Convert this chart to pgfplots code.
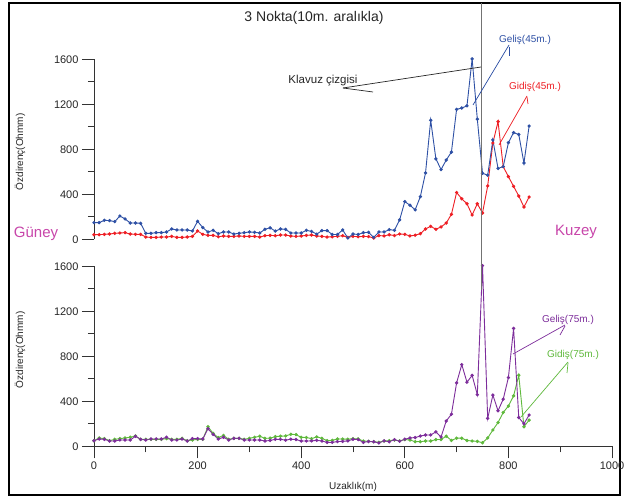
\documentclass[border=0pt]{standalone}
\usepackage{pgfplots}
\pgfplotsset{compat=1.18}
\usepackage{pgfplotstable}
\usepackage{fontspec}
\setmainfont{Liberation Sans}
\definecolor{cblue}{RGB}{46,80,165}
\definecolor{cred}{RGB}{238,30,36}
\definecolor{cpurple}{RGB}{125,45,155}
\definecolor{cgreen}{RGB}{95,185,60}
\definecolor{cmag}{RGB}{200,70,170}

\pgfplotstableread{
x y
0 148
10 148
20 169
30 166
40 157
50 207
60 181
70 145
80 145
90 142
100 53
110 53
120 59
130 59
140 65
150 92
160 83
170 83
180 83
190 74
200 160
210 104
220 65
230 80
240 50
250 65
260 65
270 47
280 53
290 59
300 65
310 62
320 56
330 89
340 102
350 73
360 92
370 88
380 56
390 56
400 56
410 80
420 70
430 46
440 77
450 77
460 43
470 43
480 83
490 12
500 47
510 43
520 59
530 62
540 17
550 65
560 65
570 86
580 80
590 172
600 335
610 303
620 262
630 379
640 590
650 1058
660 715
670 620
680 705
690 775
700 1155
710 1167
720 1186
730 1604
740 1068
750 587
760 570
770 883
780 630
790 646
800 859
810 948
820 932
830 678
840 1007
}\gelisA

\pgfplotstableread{
x y
0 41
10 41
20 44
30 47
40 53
50 56
60 59
70 47
80 44
90 44
100 20
110 17
120 17
130 20
140 20
150 26
160 17
170 17
180 20
190 26
200 74
210 44
220 35
230 35
240 23
250 29
260 26
270 26
280 29
290 26
300 26
310 26
320 20
330 32
340 35
350 32
360 38
370 38
380 29
390 26
400 29
410 35
420 38
430 29
440 26
450 20
460 23
470 26
480 32
490 17
500 26
510 23
520 26
530 24
540 12
550 33
560 30
570 41
580 33
590 47
600 44
610 30
620 36
630 50
640 92
650 115
660 89
670 110
680 145
690 222
700 416
710 360
720 316
730 216
740 316
750 234
760 474
770 856
780 1046
790 646
800 557
810 471
820 385
830 287
840 376
}\gidisA

\pgfplotstableread{
x y
0 50
10 65
20 62
30 47
40 47
50 56
60 56
70 56
80 89
90 62
100 56
110 65
120 65
130 65
140 80
150 56
160 56
170 65
180 47
190 68
200 68
210 65
220 156
230 106
240 65
250 80
260 56
270 71
280 71
290 56
300 56
310 56
320 56
330 47
340 52
350 62
360 62
370 55
380 63
390 60
400 47
410 47
420 48
430 53
440 47
450 35
460 35
470 42
480 44
490 48
500 62
510 60
520 35
530 43
540 40
550 30
560 48
570 41
580 59
590 45
600 63
610 74
620 78
630 91
640 100
650 101
660 128
670 83
680 225
690 285
700 564
710 726
720 570
730 630
740 459
750 1606
760 248
770 455
780 316
790 419
800 611
810 1048
820 256
830 200
840 278
}\gelisB

\pgfplotstableread{
x y
0 50
10 74
20 68
30 50
40 62
50 68
60 74
70 80
80 92
90 62
100 62
110 62
120 62
130 62
140 68
150 62
160 62
170 71
180 50
190 56
200 62
210 62
220 174
230 115
240 77
250 97
260 62
270 71
280 71
290 62
300 71
310 80
320 89
330 71
340 72
350 86
360 90
370 92
380 107
390 104
400 80
410 78
420 68
430 84
440 71
450 50
460 53
470 65
480 65
490 63
500 68
510 66
520 47
530 44
540 41
550 36
560 47
570 50
580 56
590 48
600 60
610 56
620 41
630 41
640 47
650 47
660 60
670 60
680 90
690 52
700 72
710 72
720 52
730 47
740 44
750 32
760 74
770 145
780 211
790 301
800 358
810 448
820 632
830 174
840 233
}\gidisB

\pgfplotsset{
  myax/.style={
    scale only axis, width=518bp, height=180bp,
    xmin=0, xmax=1000, ymin=0, ymax=1600, clip=false,
    tick align=outside, major tick length=12bp, minor tick length=6bp,
    ytick={0,400,800,1200,1600}, minor ytick={200,600,1000,1400},
    every tick/.style={black!80, line width=0.8bp},
    axis line style={black!80, line width=0.9bp},
    ticklabel style={font=\fontsize{11bp}{13bp}\selectfont, text=black!85},
    /pgf/number format/assume math mode=true,
    /pgf/number format/1000 sep={},
  },
  ser/.style={line width=0.9bp, mark=*, mark size=1.2bp},
}

\begin{document}
\begin{tikzpicture}[x=1bp,y=1bp]
\path[use as bounding box] (0bp,0bp) rectangle (628bp,498bp);
\fill[white] (0bp,0bp) rectangle (628bp,498bp);
\draw[black, line width=1.6bp] (9bp,3bp) rectangle (620bp,495bp);

\begin{axis}[myax, at={(94bp,258.7bp)}, anchor=south west,
  axis x line=none, axis y line*=left]
\addplot[ser, cred] table {\gidisA};
\addplot[ser, cblue] table {\gelisA};
\end{axis}

\begin{axis}[myax, at={(94bp,51.7bp)}, anchor=south west,
  axis x line*=bottom, axis y line*=left,
  xtick={0,200,400,600,800,1000}, minor xtick={100,300,500,700,900}]
\addplot[ser, cgreen] table {\gidisB};
\addplot[ser, cpurple] table {\gelisB};
\end{axis}

% guide line
\draw[black!55, line width=1.8bp] (481.5bp,495bp) -- (481.5bp,208bp);

% texts
\node[font=\fontsize{14bp}{16bp}\selectfont, text=black!85] at (314bp,480bp) {3 Nokta(10m. aralıkla)};
\node[font=\fontsize{11.5bp}{13bp}\selectfont, text=black!85] at (323bp,417bp) {Klavuz çizgisi};
\draw[black!85, line width=0.7bp] (343bp,410bp) -- (481bp,431bp);
\draw[black!85, line width=0.7bp] (343bp,410bp) -- (373bp,406bp);

\node[font=\fontsize{10bp}{12bp}\selectfont, text=cblue] at (525bp,458bp) {Geliş(45m.)};
\draw[cblue, line width=0.7bp] (509bp,453bp) -- (473bp,393bp);
\draw[cblue, line width=0.7bp] (509bp,451bp) -- (509bp,442bp);

\node[font=\fontsize{10bp}{12bp}\selectfont, text=cred] at (535bp,411bp) {Gidiş(45m.)};
\draw[cred, line width=0.7bp] (527bp,402bp) -- (499bp,353bp);
\draw[cred, line width=0.7bp] (527bp,401bp) -- (528bp,394bp);

\node[font=\fontsize{10bp}{12bp}\selectfont, text=cpurple] at (568bp,178bp) {Geliş(75m.)};
\draw[cpurple, line width=0.7bp] (565bp,173bp) -- (513bp,144bp);
\draw[cpurple, line width=0.7bp] (565bp,172bp) -- (560bp,163bp);

\node[font=\fontsize{10bp}{12bp}\selectfont, text=cgreen] at (573bp,143bp) {Gidiş(75m.)};
\draw[cgreen, line width=0.7bp] (568bp,136bp) -- (521bp,81bp);
\draw[cgreen, line width=0.7bp] (568bp,135bp) -- (567bp,125bp);

\node[font=\fontsize{15bp}{17bp}\selectfont, text=cmag] at (36bp,264bp) {Güney};
\node[font=\fontsize{15bp}{17bp}\selectfont, text=cmag] at (576bp,266bp) {Kuzey};

\node[rotate=90, font=\fontsize{10bp}{12bp}\selectfont, text=black!85] at (20bp,346bp) {Özdirenç(Ohmm)};
\node[rotate=90, font=\fontsize{10bp}{12bp}\selectfont, text=black!85] at (20bp,148bp) {Özdirenç(Ohmm)};
\node[font=\fontsize{10bp}{12bp}\selectfont, text=black!85] at (353bp,11bp) {Uzaklık(m)};
\end{tikzpicture}
\end{document}
